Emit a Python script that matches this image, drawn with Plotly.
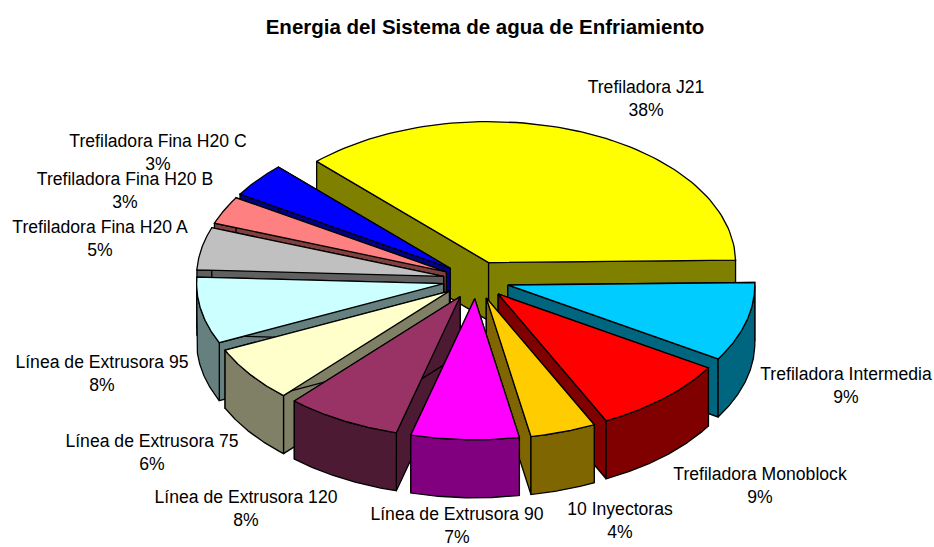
import numpy as np
import plotly.graph_objects as go

# ---- data ----
categories = ["Trefiladora J21", "Trefiladora Intermedia", "Trefiladora Monoblock", "10 Inyectoras",
              "Línea de Extrusora 90", "Línea de Extrusora 120", "Línea de Extrusora 75",
              "Línea de Extrusora 95", "Trefiladora Fina H20 A", "Trefiladora Fina H20 B",
              "Trefiladora Fina H20 C"]
values = [36.94, 9.06, 9.0, 4.3, 7.05, 7.55, 6.4, 7.6, 4.86, 3.19, 3.95]
percent_labels = ["38%", "9%", "9%", "4%", "7%", "8%", "6%", "8%", "5%", "3%", "3%"]
top_colors = ["#FFFF00", "#00CCFF", "#FF0000", "#FFCC00", "#FF00FF", "#993366", "#FFFFCC",
              "#CCFFFF", "#C0C0C0", "#FF8080", "#0000FF"]
side_colors = ["#808000", "#006680", "#800000", "#806600", "#800080", "#4D1A33", "#808066",
               "#668080", "#606060", "#804040", "#000080"]

# ---- layout constants ----
W, H = 934, 547
CX, CY = 476, 280
RX, RY = 247, 141
EXPLODE = 33
DEPTH = 58
START_DEG = -1.0 - 360 * values[0] / sum(values)
DRAW_ORDER = [0, 10, 9, 8, 7, 6, 5, 1, 2, 3, 4]
FONT = "Liberation Sans, Arial, sans-serif"
FS = 17.6
LINE_GAP = 22.5
LABEL_XY = [(646, 89), (846, 376), (760, 476), (620, 511), (457, 516), (246, 499),
            (152, 443), (102, 364), (100, 229), (125, 181), (158, 143)]

fracs = np.array(values) / sum(values)
starts = START_DEG + 360 * np.concatenate([[0], np.cumsum(fracs)[:-1]])
ends = starts + 360 * fracs

fig = go.Figure()


def poly(xs, ys, color):
    fig.add_trace(go.Scatter(x=list(xs), y=list(ys), mode="lines", fill="toself", fillcolor=color,
                             line=dict(color="#000000", width=1.3), hoverinfo="skip", showlegend=False))


for i in DRAW_ORDER:
    a0, a1 = starts[i], ends[i]
    mid = np.radians((a0 + a1) / 2)
    ax = CX + EXPLODE * np.cos(mid)
    ay = CY + EXPLODE * RY / RX * np.sin(mid)
    t = np.radians(np.linspace(a0, a1, 80))
    ox = ax + RX * np.cos(t)
    oy = ay + RY * np.sin(t)
    # radial side faces
    for k in (0, -1):
        poly([ax, ox[k], ox[k], ax, ax], [ay, oy[k], oy[k] + DEPTH, ay + DEPTH, ay], side_colors[i])
    # outer rim, front-facing part only
    front = np.sin(t) >= 0
    if front.sum() > 1:
        fx, fy = ox[front], oy[front]
        poly(np.r_[fx, fx[::-1], fx[0]], np.r_[fy, fy[::-1] + DEPTH, fy[0]], side_colors[i])
    # top face
    poly(np.r_[ax, ox, ax], np.r_[ay, oy, ay], top_colors[i])

# labels: name line and percent line
lx, ly, lt = [], [], []
for name, pct, (x, y) in zip(categories, percent_labels, LABEL_XY):
    lx += [x, x]
    ly += [y, y + LINE_GAP]
    lt += [name, pct]
fig.add_trace(go.Scatter(x=lx, y=ly, mode="text", text=lt, textposition="middle center",
                         textfont=dict(family=FONT, size=FS, color="#000000"),
                         hoverinfo="skip", showlegend=False, cliponaxis=False))

fig.update_layout(
    width=W, height=H, margin=dict(l=0, r=0, t=0, b=0), paper_bgcolor="#FFFFFF", plot_bgcolor="#FFFFFF",
    xaxis=dict(range=[0, W], visible=False, fixedrange=True),
    yaxis=dict(range=[H, 0], visible=False, fixedrange=True),
    title=dict(text="<b>Energia del Sistema de agua de Enfriamiento</b>", x=485 / W, xanchor="center",
               y=1 - 27 / H, yanchor="middle", font=dict(family=FONT, size=20.5, color="#000000")),
)
fig.write_html("out.html", config={"displayModeBar": False},
               post_script="document.body.style.margin='0';")
